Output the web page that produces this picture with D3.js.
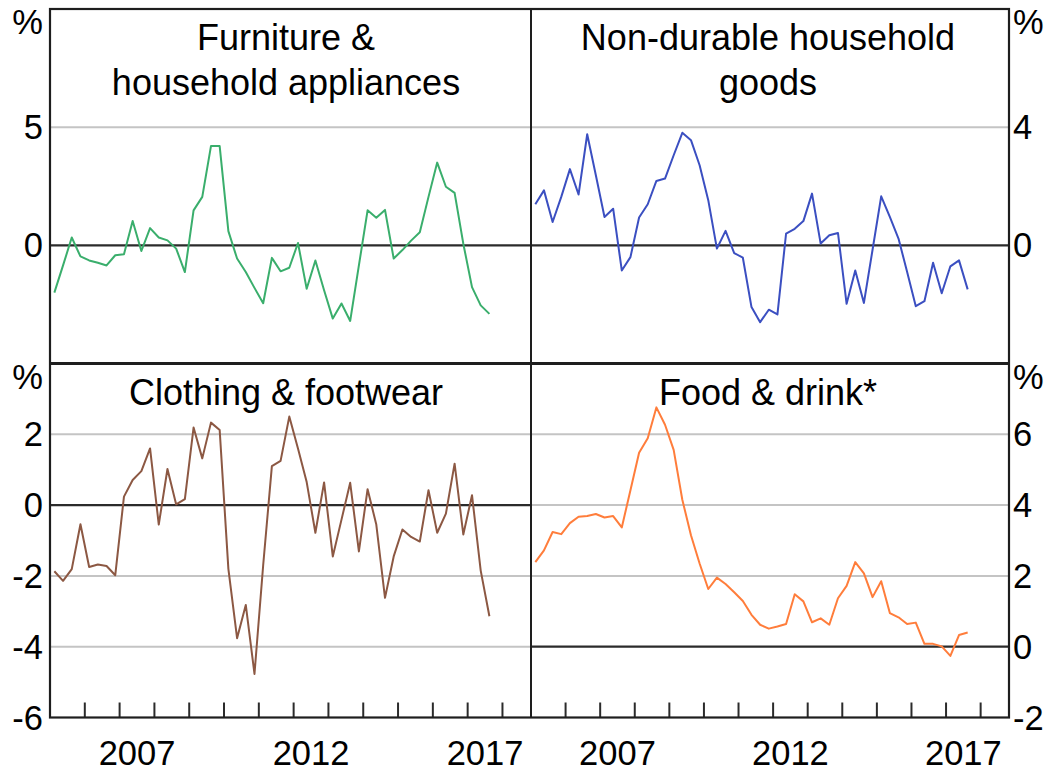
<!DOCTYPE html>
<html>
<head>
<meta charset="utf-8">
<script src="https://cdn.jsdelivr.net/npm/d3@7"></script>
<style>
  html, body { margin: 0; padding: 0; background: #fff; }
  svg { display: block; }
  text { font-family: "Liberation Sans", Arial, sans-serif; fill: #000; }
</style>
</head>
<body>
<svg id="chart" width="1049" height="772"></svg>
<script>
// ---- Data (quarterly, 2005Q1 – 2017Q3) ----
const quarters = [
  "2005Q1","2005Q2","2005Q3","2005Q4","2006Q1","2006Q2","2006Q3","2006Q4",
  "2007Q1","2007Q2","2007Q3","2007Q4","2008Q1","2008Q2","2008Q3","2008Q4",
  "2009Q1","2009Q2","2009Q3","2009Q4","2010Q1","2010Q2","2010Q3","2010Q4",
  "2011Q1","2011Q2","2011Q3","2011Q4","2012Q1","2012Q2","2012Q3","2012Q4",
  "2013Q1","2013Q2","2013Q3","2013Q4","2014Q1","2014Q2","2014Q3","2014Q4",
  "2015Q1","2015Q2","2015Q3","2015Q4","2016Q1","2016Q2","2016Q3","2016Q4",
  "2017Q1","2017Q2","2017Q3"
];

const furniture = [
  -2.0, -0.85, 0.33, -0.47, -0.64, -0.74, -0.85, -0.42, -0.38, 1.03,
  -0.24, 0.73, 0.33, 0.21, -0.14, -1.13, 1.48, 2.05, 4.2, 4.2,
  0.6, -0.56, -1.13, -1.8, -2.45, -0.53, -1.1, -0.95, 0.1, -1.84,
  -0.64, -1.9, -3.1, -2.46, -3.2, -0.85, 1.48, 1.17, 1.5, -0.56,
  -0.2, 0.2, 0.55, 2.05, 3.5, 2.48, 2.22, 0.07, -1.77, -2.54, -2.9
];

const nonDurable = [
  1.39, 1.86, 0.79, 1.64, 2.58, 1.72, 3.76, 2.37, 0.96, 1.24,
  -0.85, -0.4, 0.94, 1.39, 2.18, 2.26, 3.05, 3.81, 3.56, 2.71,
  1.53, -0.11, 0.49, -0.26, -0.42, -2.09, -2.6, -2.18, -2.34, 0.4,
  0.56, 0.82, 1.75, 0.06, 0.34, 0.42, -1.98, -0.85, -1.95, -0.15,
  1.66, 0.96, 0.23, -0.9, -2.06, -1.89, -0.59, -1.62, -0.71, -0.51, -1.49
];

const clothing = [
  -1.87, -2.14, -1.81, -0.54, -1.75, -1.68, -1.72, -1.98, 0.24, 0.71,
  0.96, 1.6, -0.55, 1.02, 0.02, 0.17, 2.19, 1.32, 2.33, 2.12,
  -1.8, -3.76, -2.82, -4.77, -1.7, 1.1, 1.25, 2.5, 1.6, 0.65,
  -0.78, 0.64, -1.45, -0.41, 0.63, -1.31, 0.45, -0.55, -2.62, -1.45,
  -0.69, -0.9, -1.03, 0.42, -0.78, -0.24, 1.17, -0.83, 0.28, -1.85, -3.14
];

const food = [
  2.39, 2.72, 3.24, 3.18, 3.49, 3.67, 3.69, 3.75, 3.65, 3.69,
  3.37, 4.42, 5.48, 5.89, 6.76, 6.27, 5.56, 4.15, 3.15, 2.35,
  1.63, 1.95, 1.77, 1.54, 1.29, 0.9, 0.62, 0.51, 0.57, 0.64,
  1.48, 1.28, 0.69, 0.8, 0.62, 1.37, 1.72, 2.39, 2.07, 1.4,
  1.85, 0.95, 0.83, 0.64, 0.68, 0.08, 0.08, 0.01, -0.26, 0.33, 0.4
];

const titles = {
  furniture: ["Furniture &", "household appliances"],
  nonDurable: ["Non-durable household", "goods"],
  clothing: ["Clothing & footwear"],
  food: ["Food & drink*"]
};

const yearLabels = [2007, 2012, 2017];
const yearTicks = [2006, 2007, 2008, 2009, 2010, 2011, 2012, 2013, 2014, 2015, 2016, 2017, 2018];

// ---- Layout ----
const L = 50, M = 531, R = 1009, T = 9, MID = 363.5, B = 717.5;
const FS = 34.5;   // tick labels
const TFS = 36;    // titles

const toTime = q => +q.slice(0, 4) + (+q.slice(5) - 1) * 0.25 + 0.125;
const xDomain = [2005, 2018.82];

const panels = [
  { key: "furniture", data: furniture, color: "#3aae6c", x0: L, x1: M, y0: T, y1: MID,
    dom: [-5, 10], ticks: [5, 0], grid: [5], side: "left", bottomAxis: false, tx: 286 },
  { key: "nonDurable", data: nonDurable, color: "#3b4fc1", x0: M, x1: R, y0: T, y1: MID,
    dom: [-4, 8], ticks: [4, 0], grid: [4], side: "right", bottomAxis: false, tx: 768 },
  { key: "clothing", data: clothing, color: "#8c5843", x0: L, x1: M, y0: MID, y1: B,
    dom: [-6, 4], ticks: [2, 0, -2, -4, -6], grid: [2, -2, -4], side: "left", bottomAxis: true, tx: 286 },
  { key: "food", data: food, color: "#ff7d3b", x0: M, x1: R, y0: MID, y1: B,
    dom: [-2, 8], ticks: [6, 4, 2, 0, -2], grid: [6, 4, 2], side: "right", bottomAxis: true, tx: 768 }
];

const svg = d3.select("#chart");

panels.forEach(p => {
  const x = d3.scaleLinear().domain(xDomain).range([p.x0, p.x1]);
  const y = d3.scaleLinear().domain(p.dom).range([p.y1, p.y0]);
  const g = svg.append("g");

  // grid lines
  g.selectAll("line.grid").data(p.grid).join("line")
    .attr("x1", p.x0).attr("x2", p.x1)
    .attr("y1", d => y(d)).attr("y2", d => y(d))
    .attr("stroke", "#c4c4c4").attr("stroke-width", 2);

  // zero line
  g.append("line")
    .attr("x1", p.x0).attr("x2", p.x1)
    .attr("y1", y(0)).attr("y2", y(0))
    .attr("stroke", "#2b2b2b").attr("stroke-width", 2.2);

  // y tick labels
  const lx = p.side === "left" ? L - 7 : R + 4;
  const anchor = p.side === "left" ? "end" : "start";
  g.selectAll("text.ytick").data(p.ticks).join("text")
    .attr("x", lx).attr("y", d => y(d) + 12)
    .attr("text-anchor", anchor)
    .attr("font-size", FS)
    .text(d => d);

  // % unit label
  g.append("text")
    .attr("x", lx).attr("y", p.y0 + 25)
    .attr("text-anchor", anchor)
    .attr("font-size", FS)
    .text("%");

  // x axis ticks & labels
  if (p.bottomAxis) {
    g.selectAll("line.xtick").data(yearTicks).join("line")
      .attr("x1", d => x(d)).attr("x2", d => x(d))
      .attr("y1", B - 15).attr("y2", B)
      .attr("stroke", "#2b2b2b").attr("stroke-width", 2);
    g.selectAll("text.xlab").data(yearLabels).join("text")
      .attr("x", d => x(d + 0.5)).attr("y", 765)
      .attr("text-anchor", "middle")
      .attr("font-size", FS)
      .text(d => d);
  }

  // title
  titles[p.key].forEach((t, i) => {
    g.append("text")
      .attr("x", p.tx).attr("y", p.y0 + 41 + i * 45)
      .attr("text-anchor", "middle")
      .attr("font-size", TFS)
      .text(t);
  });

  // series line
  const line = d3.line()
    .x((d, i) => x(toTime(quarters[i])))
    .y(d => y(d));
  g.append("path")
    .datum(p.data)
    .attr("d", line)
    .attr("fill", "none")
    .attr("stroke", p.color)
    .attr("stroke-width", 2)
    .attr("stroke-linejoin", "round");
});

// frames
svg.append("rect")
  .attr("x", L).attr("y", T).attr("width", R - L).attr("height", B - T)
  .attr("fill", "none").attr("stroke", "#1e1e1e").attr("stroke-width", 2.2);
svg.append("line")
  .attr("x1", M).attr("x2", M).attr("y1", T).attr("y2", B)
  .attr("stroke", "#1e1e1e").attr("stroke-width", 2);
svg.append("line")
  .attr("x1", L).attr("x2", R).attr("y1", MID).attr("y2", MID)
  .attr("stroke", "#1e1e1e").attr("stroke-width", 3);
</script>
</body>
</html>
